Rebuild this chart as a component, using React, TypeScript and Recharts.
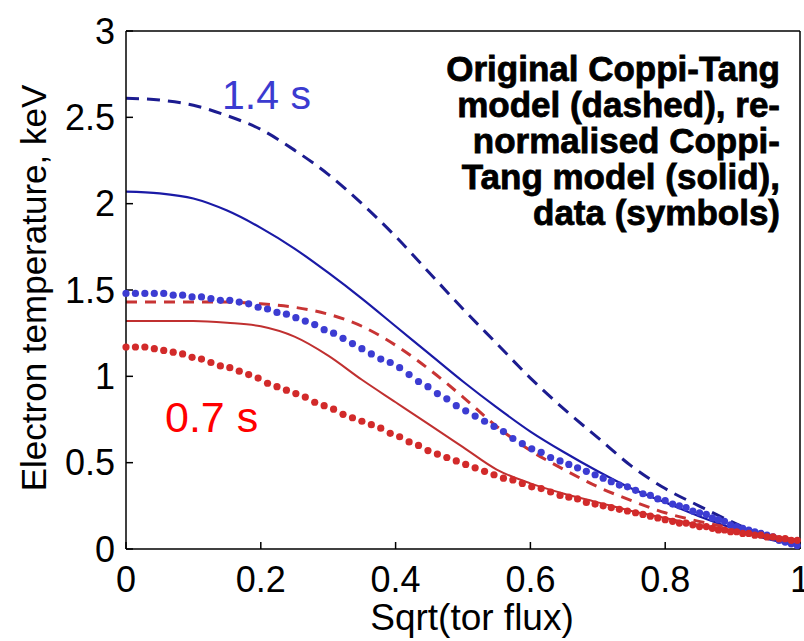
import React from "react";
import { ComposedChart, Line, Scatter, XAxis, YAxis } from "recharts";

// Model curves (Coppi-Tang), sampled on sqrt(toroidal flux)
const xModel = [0, 0.05, 0.1, 0.15, 0.2, 0.25, 0.3, 0.35, 0.4, 0.45, 0.5, 0.55, 0.6, 0.65, 0.7, 0.75, 0.8, 0.85, 0.9, 0.95, 1.0];
const blueDashed = [2.61, 2.6, 2.57, 2.51, 2.43, 2.31, 2.17, 2.0, 1.81, 1.6, 1.39, 1.19, 0.99, 0.81, 0.645, 0.48, 0.35, 0.25, 0.155, 0.075, 0.02];
const blueSolid = [2.07, 2.06, 2.03, 1.96, 1.86, 1.74, 1.6, 1.45, 1.29, 1.13, 0.97, 0.82, 0.68, 0.56, 0.45, 0.35, 0.27, 0.19, 0.12, 0.06, 0.02];
const redDashed = [1.43, 1.43, 1.43, 1.43, 1.42, 1.4, 1.36, 1.29, 1.18, 1.04, 0.88, 0.71, 0.57, 0.46, 0.36, 0.28, 0.21, 0.16, 0.12, 0.08, 0.05];
const redSolid = [1.32, 1.32, 1.32, 1.31, 1.29, 1.23, 1.12, 0.98, 0.85, 0.72, 0.59, 0.46, 0.38, 0.32, 0.27, 0.22, 0.18, 0.14, 0.11, 0.08, 0.05];

// Measured data (symbols)
const xData = [
  0.0, 0.014, 0.028, 0.042, 0.056, 0.07, 0.084, 0.098, 0.112, 0.126, 0.14, 0.154, 0.168, 0.182, 0.196, 0.21,
  0.224, 0.238, 0.252, 0.266, 0.28, 0.294, 0.308, 0.322, 0.336, 0.35, 0.364, 0.378, 0.392, 0.406, 0.42, 0.434,
  0.448, 0.462, 0.476, 0.49, 0.504, 0.518, 0.532, 0.546, 0.56, 0.574, 0.588, 0.602, 0.616, 0.63, 0.644, 0.657,
  0.67, 0.683, 0.696, 0.708, 0.72, 0.732, 0.744, 0.756, 0.767, 0.778, 0.789, 0.8, 0.811, 0.821, 0.831, 0.841,
  0.851, 0.861, 0.87, 0.879, 0.888, 0.897, 0.906, 0.915, 0.924, 0.933, 0.942, 0.951, 0.96, 0.969, 0.978, 0.987, 0.996,
];
const blueData = [
  1.48, 1.48, 1.48, 1.48, 1.48, 1.47, 1.47, 1.46, 1.46, 1.45, 1.44, 1.44, 1.43, 1.42, 1.4, 1.39,
  1.37, 1.36, 1.34, 1.32, 1.3, 1.27, 1.25, 1.22, 1.19, 1.16, 1.13, 1.1, 1.08, 1.05, 1.01, 0.97,
  0.94, 0.9, 0.87, 0.83, 0.8, 0.77, 0.74, 0.71, 0.68, 0.64, 0.61, 0.58, 0.56, 0.53, 0.51, 0.49,
  0.47, 0.45, 0.43, 0.41, 0.39, 0.37, 0.36, 0.34, 0.32, 0.31, 0.29, 0.28, 0.26, 0.25, 0.24, 0.22,
  0.21, 0.2, 0.18, 0.17, 0.16, 0.14, 0.13, 0.12, 0.11, 0.1, 0.09, 0.08, 0.07, 0.05, 0.04, 0.03, 0.02,
];
const redData = [
  1.17, 1.17, 1.17, 1.16, 1.15, 1.14, 1.13, 1.11, 1.1, 1.08, 1.06, 1.05, 1.03, 1.01, 0.99, 0.96,
  0.94, 0.92, 0.9, 0.88, 0.85, 0.83, 0.81, 0.78, 0.76, 0.74, 0.72, 0.7, 0.67, 0.65, 0.62, 0.6,
  0.57, 0.55, 0.53, 0.51, 0.49, 0.47, 0.45, 0.43, 0.41, 0.4, 0.38, 0.36, 0.35, 0.33, 0.31, 0.3,
  0.29, 0.27, 0.26, 0.25, 0.24, 0.23, 0.22, 0.21, 0.2, 0.19, 0.18, 0.17, 0.16, 0.15, 0.15, 0.14,
  0.13, 0.13, 0.12, 0.11, 0.11, 0.1, 0.1, 0.09, 0.09, 0.08, 0.08, 0.07, 0.07, 0.06, 0.06, 0.05, 0.05,
];

const xTicks = [0, 0.2, 0.4, 0.6, 0.8, 1];
const yTicks = [0, 0.5, 1, 1.5, 2, 2.5, 3];
const xTitle = "Sqrt(tor flux)";
const yTitle = "Electron temperature, keV";
const noteLines = [
  "Original Coppi-Tang",
  "model (dashed), re-",
  "normalised Coppi-",
  "Tang model (solid),",
  "data (symbols)",
];
const label14 = "1.4 s";
const label07 = "0.7 s";

const zip = (xs: number[], ys: number[]) => xs.map((x, i) => ({ x, y: ys[i] }));

const FONT = "'Liberation Sans', Arial, Helvetica, sans-serif";
const W = 804;
const H = 641;

const tickStyle = { fontSize: 36, fill: "#000", fontFamily: FONT };

export default function App() {
  return (
    <div style={{ position: "fixed", left: 0, top: 0, width: W, height: H, overflow: "hidden", background: "#fff" }}>
      <ComposedChart width={W} height={H} margin={{ top: 30, right: 0, bottom: 30, left: 56 }}>
        <XAxis
          xAxisId="b"
          dataKey="x"
          type="number"
          domain={[0, 1]}
          ticks={xTicks}
          interval={0}
          height={62}
          tickSize={-7}
          tickMargin={24}
          tick={tickStyle}
          stroke="#000"
          strokeWidth={1.5}
          tickFormatter={(v: number) => String(v)}
        />
        <XAxis
          xAxisId="t"
          orientation="top"
          type="number"
          domain={[0, 1]}
          ticks={xTicks}
          height={1}
          tickSize={-7}
          tick={false}
          stroke="#000"
          strokeWidth={1.5}
        />
        <YAxis
          yAxisId="l"
          dataKey="y"
          type="number"
          domain={[0, 3]}
          ticks={yTicks}
          interval={0}
          width={70}
          tickSize={-7}
          tickMargin={18}
          tick={tickStyle}
          stroke="#000"
          strokeWidth={1.5}
          tickFormatter={(v: number) => String(v)}
        />
        <YAxis
          yAxisId="r"
          orientation="right"
          type="number"
          domain={[0, 3]}
          ticks={yTicks}
          width={4}
          tickSize={-7}
          tick={false}
          stroke="#000"
          strokeWidth={1.5}
        />
        <Line
          xAxisId="b"
          yAxisId="l"
          data={zip(xModel, blueDashed)}
          dataKey="y"
          type="monotone"
          stroke="#1c1c90"
          strokeWidth={3}
          strokeDasharray="13 8"
          dot={false}
          isAnimationActive={false}
        />
        <Line
          xAxisId="b"
          yAxisId="l"
          data={zip(xModel, blueSolid)}
          dataKey="y"
          type="monotone"
          stroke="#1a1aa6"
          strokeWidth={2.2}
          dot={false}
          isAnimationActive={false}
        />
        <Scatter
          xAxisId="b"
          yAxisId="l"
          data={zip(xData, blueData)}
          fill="#3c3cd2"
          shape={(p: any) => <circle cx={p.cx} cy={p.cy} r={3.6} fill="#3c3cd2" />}
          isAnimationActive={false}
        />
        <Line
          xAxisId="b"
          yAxisId="l"
          data={zip(xModel, redDashed)}
          dataKey="y"
          type="monotone"
          stroke="#c83434"
          strokeWidth={3}
          strokeDasharray="11 8"
          dot={false}
          isAnimationActive={false}
        />
        <Line
          xAxisId="b"
          yAxisId="l"
          data={zip(xModel, redSolid)}
          dataKey="y"
          type="monotone"
          stroke="#c03030"
          strokeWidth={2}
          dot={false}
          isAnimationActive={false}
        />
        <Scatter
          xAxisId="b"
          yAxisId="l"
          data={zip(xData, redData)}
          fill="#d22a2a"
          shape={(p: any) => <circle cx={p.cx} cy={p.cy} r={3.6} fill="#d22a2a" />}
          isAnimationActive={false}
        />
      </ComposedChart>
      <svg
        width={W}
        height={H}
        style={{ position: "absolute", left: 0, top: 0, pointerEvents: "none" }}
      >
        <text
          x={472}
          y={630}
          textAnchor="middle"
          fontSize={37}
          fontFamily={FONT}
          fill="#000"
        >
          {xTitle}
        </text>
        <text
          transform="translate(46 288) rotate(-90)"
          textAnchor="middle"
          fontSize={35}
          fontFamily={FONT}
          fill="#000"
        >
          {yTitle}
        </text>
        <text
          x={780}
          y={81}
          textAnchor="end"
          fontSize={35}
          fontWeight={900}
          fontFamily={FONT}
          fill="#000"
          stroke="#000"
          strokeWidth={0.8}
        >
          {noteLines.map((s, i) => (
            <tspan key={i} x={780} dy={i === 0 ? 0 : 36}>
              {s}
            </tspan>
          ))}
        </text>
        <text x={222} y={109} fontSize={41} fontFamily={FONT} fill="#3b3bd0">
          {label14}
        </text>
        <text x={165} y={432} fontSize={43} fontFamily={FONT} fill="#ff0000">
          {label07}
        </text>
      </svg>
    </div>
  );
}
